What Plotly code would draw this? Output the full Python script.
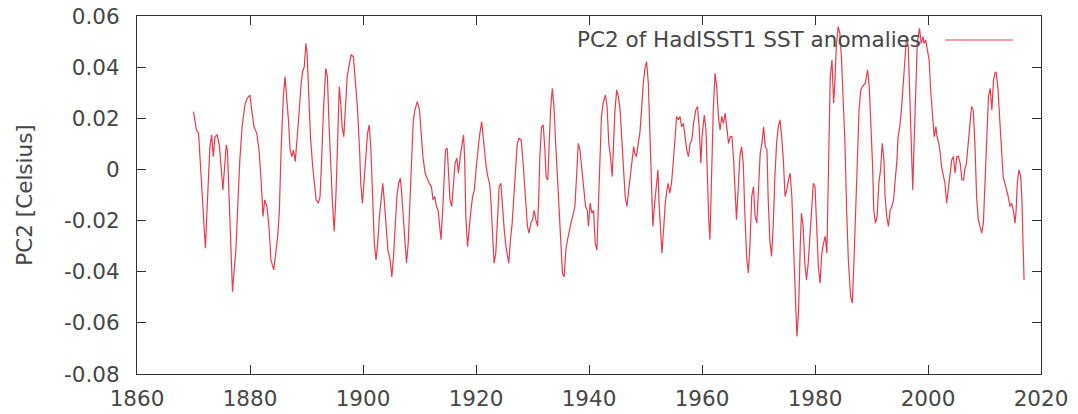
import plotly.graph_objects as go

years = [
    1870.0, 1870.5, 1870.9, 1871.5, 1872.1, 1872.5, 1872.9, 1873.2, 1873.5, 1873.8,
    1874.2, 1874.6, 1874.8, 1875.2, 1875.5, 1875.8, 1876.0, 1876.4, 1876.7, 1876.9,
    1877.2, 1877.5, 1877.8, 1878.2, 1878.6, 1879.1, 1879.5, 1880.0, 1880.3, 1880.7,
    1881.2, 1881.6, 1882.0, 1882.3, 1882.6, 1883.0, 1883.4, 1883.7, 1884.2, 1884.5,
    1884.9, 1885.2, 1885.5, 1885.9, 1886.2, 1886.8, 1887.1, 1887.4, 1887.7, 1888.0,
    1888.3, 1888.6, 1889.0, 1889.3, 1889.6, 1889.9, 1890.1, 1890.4, 1890.7, 1891.1,
    1891.4, 1891.7, 1892.1, 1892.4, 1892.7, 1893.0, 1893.4, 1893.7, 1894.0, 1894.3,
    1894.6, 1894.9, 1895.2, 1895.5, 1895.8, 1896.1, 1896.3, 1896.6, 1896.9, 1897.2,
    1897.6, 1897.9, 1898.3, 1898.6, 1899.0, 1899.4, 1899.6, 1899.9, 1900.2, 1900.5,
    1900.8, 1901.1, 1901.4, 1901.7, 1902.0, 1902.3, 1902.6, 1902.9, 1903.2, 1903.5,
    1903.8, 1904.1, 1904.4, 1904.8, 1905.1, 1905.4, 1905.7, 1906.0, 1906.3, 1906.6,
    1906.8, 1907.1, 1907.4, 1907.7, 1908.0, 1908.3, 1908.6, 1908.9, 1909.2, 1909.6,
    1910.0, 1910.3, 1910.6, 1911.0, 1911.4, 1911.7, 1912.1, 1912.4, 1912.7, 1913.0,
    1913.3, 1913.6, 1913.8, 1914.1, 1914.3, 1914.6, 1914.9, 1915.2, 1915.4, 1915.7,
    1916.0, 1916.3, 1916.6, 1916.9, 1917.2, 1917.5, 1917.8, 1918.0, 1918.2, 1918.5,
    1918.8, 1919.1, 1919.4, 1919.7, 1920.0, 1920.3, 1920.6, 1921.0, 1921.2, 1921.5,
    1921.8, 1922.1, 1922.4, 1922.6, 1922.9, 1923.2, 1923.5, 1923.8, 1924.1, 1924.4,
    1924.7, 1925.0, 1925.3, 1925.5, 1925.8, 1926.1, 1926.4, 1926.7, 1927.0, 1927.3,
    1927.6, 1928.0, 1928.3, 1928.6, 1928.9, 1929.1, 1929.4, 1929.7, 1930.0, 1930.3,
    1930.6, 1930.9, 1931.1, 1931.3, 1931.6, 1931.9, 1932.2, 1932.4, 1932.7, 1932.9,
    1933.2, 1933.5, 1933.8, 1934.1, 1934.5, 1934.8, 1935.1, 1935.3, 1935.6, 1935.9,
    1936.2, 1936.5, 1936.8, 1937.1, 1937.5, 1937.8, 1938.1, 1938.4, 1938.7, 1939.1,
    1939.4, 1939.7, 1939.9, 1940.2, 1940.5, 1940.8, 1941.1, 1941.4, 1941.7, 1941.9,
    1942.2, 1942.5, 1942.9, 1943.2, 1943.5, 1943.8, 1944.1, 1944.3, 1944.6, 1944.9,
    1945.2, 1945.5, 1945.8, 1946.1, 1946.4, 1946.7, 1947.0, 1947.3, 1947.6, 1947.9,
    1948.1, 1948.4, 1948.7, 1949.0, 1949.3, 1949.6, 1949.9, 1950.2, 1950.5, 1950.8,
    1951.1, 1951.3, 1951.5, 1951.9, 1952.2, 1952.4, 1952.7, 1952.9, 1953.2, 1953.5,
    1953.8, 1954.0, 1954.3, 1954.6, 1954.9, 1955.2, 1955.5, 1955.8, 1956.1, 1956.4,
    1956.7, 1957.0, 1957.3, 1957.6, 1957.9, 1958.2, 1958.5, 1958.9, 1959.2, 1959.5,
    1959.8, 1960.0, 1960.4, 1960.7, 1960.9, 1961.2, 1961.4, 1961.7, 1962.0, 1962.3,
    1962.6, 1962.9, 1963.2, 1963.5, 1963.8, 1964.1, 1964.4, 1964.7, 1965.0, 1965.3,
    1965.6, 1965.9, 1966.1, 1966.4, 1966.7, 1967.0, 1967.3, 1967.6, 1967.9, 1968.2,
    1968.5, 1968.8, 1969.1, 1969.4, 1969.7, 1970.0, 1970.3, 1970.6, 1970.9, 1971.2,
    1971.5, 1971.7, 1972.0, 1972.3, 1972.6, 1972.9, 1973.2, 1973.5, 1973.8, 1974.1,
    1974.4, 1974.7, 1975.0, 1975.3, 1975.6, 1975.9, 1976.2, 1976.5, 1976.8, 1977.1,
    1977.4, 1977.6, 1977.9, 1978.2, 1978.5, 1978.8, 1979.1, 1979.4, 1979.7, 1980.0,
    1980.3, 1980.6, 1980.9, 1981.2, 1981.5, 1981.8, 1982.1, 1982.4, 1982.7, 1983.0,
    1983.3, 1983.5, 1983.8, 1984.1, 1984.4, 1984.7, 1985.0, 1985.3, 1985.6, 1985.9,
    1986.3, 1986.6, 1986.9, 1987.2, 1987.5, 1987.8, 1988.1, 1988.4, 1988.9, 1989.3,
    1989.6, 1989.9, 1990.2, 1990.4, 1990.7, 1991.0, 1991.3, 1991.6, 1991.9, 1992.2,
    1992.4, 1992.7, 1993.0, 1993.3, 1993.6, 1993.9, 1994.2, 1994.5, 1994.7, 1995.0,
    1995.3, 1995.6, 1995.9, 1996.2, 1996.5, 1996.8, 1997.1, 1997.3, 1997.5, 1997.8,
    1998.1, 1998.5, 1998.8, 1999.1, 1999.3, 1999.6, 1999.9, 2000.2, 2000.5, 2000.8,
    2001.1, 2001.4, 2001.6, 2001.9, 2002.1, 2002.4, 2002.7, 2003.0, 2003.3, 2003.6,
    2003.9, 2004.2, 2004.5, 2004.8, 2005.1, 2005.4, 2005.7, 2006.0, 2006.3, 2006.5,
    2006.8, 2007.1, 2007.4, 2007.7, 2008.0, 2008.3, 2008.6, 2008.9, 2009.2, 2009.5,
    2009.8, 2010.1, 2010.4, 2010.7, 2011.0, 2011.3, 2011.6, 2011.9, 2012.1, 2012.4,
    2012.7, 2013.0, 2013.3, 2013.6, 2013.9, 2014.2, 2014.5, 2014.8, 2015.1, 2015.4,
    2015.6, 2015.8, 2016.1, 2016.4, 2016.6, 2016.8, 2017.0,
]

pc2 = [
    0.0226, 0.0154, 0.0141, -0.0093, -0.0308, -0.0106, 0.0089, 0.0135, 0.0050, 0.0128,
    0.0135, 0.0089, 0.0037, -0.0080, 0.0010, 0.0096, 0.0076, -0.0160, -0.0406, -0.0478,
    -0.0393, -0.0315, -0.0160, 0.0037, 0.0167, 0.0252, 0.0278, 0.0291, 0.0233, 0.0167,
    0.0141, 0.0076, -0.0054, -0.0184, -0.0119, -0.0145, -0.0236, -0.0354, -0.0393, -0.0340,
    -0.0262, -0.0160, 0.0076, 0.0285, 0.0363, 0.0194, 0.0076, 0.0050, 0.0076, 0.0030,
    0.0102, 0.0194, 0.0324, 0.0382, 0.0402, 0.0493, 0.0454, 0.0298, 0.0128, 0.0010,
    -0.0054, -0.0119, -0.0132, -0.0106, 0.0050, 0.0233, 0.0395, 0.0363, 0.0167, -0.0002,
    -0.0132, -0.0243, -0.0106, 0.0102, 0.0324, 0.0246, 0.0167, 0.0128, 0.0259, 0.0363,
    0.0415, 0.0448, 0.0441, 0.0363, 0.0246, 0.0076, -0.0054, -0.0132, -0.0028, 0.0063,
    0.0141, 0.0174, 0.0076, -0.0106, -0.0289, -0.0354, -0.0289, -0.0184, -0.0106, -0.0054,
    -0.0132, -0.0236, -0.0315, -0.0354, -0.0420, -0.0340, -0.0210, -0.0106, -0.0054, -0.0034,
    -0.0080, -0.0184, -0.0289, -0.0367, -0.0289, -0.0132, 0.0037, 0.0194, 0.0233, 0.0265,
    0.0233, 0.0141, 0.0050, -0.0015, -0.0041, -0.0054, -0.0067, -0.0119, -0.0106, -0.0145,
    -0.0160, -0.0236, -0.0275, -0.0160, -0.0054, 0.0076, 0.0083, -0.0028, -0.0119, -0.0145,
    -0.0054, 0.0024, 0.0044, -0.0015, 0.0050, 0.0102, 0.0135, 0.0037, -0.0184, -0.0302,
    -0.0223, -0.0160, -0.0106, -0.0080, -0.0002, 0.0076, 0.0128, 0.0187, 0.0141, 0.0076,
    0.0010, -0.0028, -0.0054, -0.0106, -0.0262, -0.0367, -0.0328, -0.0184, -0.0067, -0.0054,
    -0.0160, -0.0236, -0.0302, -0.0328, -0.0367, -0.0275, -0.0210, -0.0106, 0.0024, 0.0102,
    0.0122, 0.0115, 0.0037, -0.0054, -0.0132, -0.0223, -0.0249, -0.0210, -0.0197, -0.0160,
    -0.0197, -0.0223, -0.0106, 0.0050, 0.0167, 0.0174, 0.0076, -0.0028, -0.0041, 0.0102,
    0.0233, 0.0317, 0.0246, 0.0102, -0.0080, -0.0236, -0.0328, -0.0406, -0.0420, -0.0315,
    -0.0275, -0.0236, -0.0210, -0.0184, -0.0145, -0.0028, 0.0102, 0.0076, 0.0010, -0.0093,
    -0.0145, -0.0160, -0.0223, -0.0132, -0.0171, -0.0160, -0.0289, -0.0315, -0.0106, 0.0050,
    0.0207, 0.0259, 0.0291, 0.0246, 0.0102, 0.0050, -0.0028, 0.0076, 0.0233, 0.0311,
    0.0285, 0.0233, 0.0102, -0.0028, -0.0106, -0.0145, -0.0080, -0.0028, 0.0037, 0.0089,
    0.0063, 0.0050, 0.0102, 0.0141, 0.0233, 0.0337, 0.0395, 0.0422, 0.0337, 0.0102,
    -0.0160, -0.0223, -0.0160, -0.0054, -0.0002, -0.0132, -0.0262, -0.0328, -0.0236, -0.0132,
    -0.0080, -0.0054, -0.0093, -0.0054, 0.0024, 0.0128, 0.0207, 0.0194, 0.0207, 0.0167,
    0.0180, 0.0128, 0.0076, 0.0050, 0.0102, 0.0115, 0.0180, 0.0233, 0.0246, 0.0167,
    0.0024, 0.0128, 0.0213, 0.0154, -0.0028, -0.0197, -0.0275, -0.0002, 0.0233, 0.0376,
    0.0324, 0.0207, 0.0154, 0.0207, 0.0180, 0.0220, 0.0167, 0.0102, 0.0128, 0.0128,
    0.0037, -0.0145, -0.0197, -0.0080, 0.0050, 0.0089, 0.0024, -0.0184, -0.0340, -0.0406,
    -0.0289, -0.0106, -0.0067, -0.0184, -0.0210, -0.0080, 0.0063, 0.0102, 0.0167, 0.0089,
    0.0076, -0.0106, -0.0275, -0.0340, -0.0223, -0.0028, 0.0102, 0.0167, 0.0194, 0.0128,
    0.0037, -0.0106, -0.0080, -0.0041, -0.0015, -0.0106, -0.0262, -0.0484, -0.0653, -0.0549,
    -0.0289, -0.0171, -0.0223, -0.0367, -0.0432, -0.0367, -0.0262, -0.0160, -0.0054, -0.0067,
    -0.0210, -0.0380, -0.0445, -0.0328, -0.0289, -0.0262, -0.0328, 0.0037, 0.0363, 0.0428,
    0.0259, 0.0337, 0.0493, 0.0558, 0.0532, 0.0428, 0.0285, 0.0102, -0.0160, -0.0354,
    -0.0497, -0.0523, -0.0354, -0.0160, 0.0076, 0.0233, 0.0311, 0.0324, 0.0337, 0.0389,
    0.0324, 0.0180, 0.0010, -0.0160, -0.0210, -0.0184, -0.0054, -0.0002, 0.0102, 0.0037,
    -0.0106, -0.0184, -0.0223, -0.0160, -0.0145, -0.0119, -0.0054, 0.0037, 0.0128, 0.0167,
    0.0233, 0.0324, 0.0428, 0.0519, 0.0480, 0.0298, 0.0063, -0.0080, 0.0076, 0.0298,
    0.0493, 0.0552, 0.0493, 0.0519, 0.0493, 0.0506, 0.0467, 0.0428, 0.0298, 0.0207,
    0.0128, 0.0167, 0.0128, 0.0102, 0.0076, 0.0010, -0.0028, -0.0054, -0.0132, -0.0067,
    -0.0015, 0.0037, 0.0050, -0.0015, 0.0050, 0.0050, 0.0024, -0.0041, -0.0041, -0.0002,
    0.0024, 0.0102, 0.0194, 0.0246, 0.0233, 0.0102, -0.0106, -0.0197, -0.0223, -0.0249,
    -0.0210, -0.0028, 0.0167, 0.0285, 0.0317, 0.0233, 0.0350, 0.0382, 0.0376, 0.0311,
    0.0194, 0.0076, -0.0028, -0.0054, -0.0080, -0.0106, -0.0145, -0.0132, -0.0160, -0.0210,
    -0.0160, -0.0054, -0.0002, -0.0028, -0.0106, -0.0302, -0.0432,
]

x_ticks = [1860, 1880, 1900, 1920, 1940, 1960, 1980, 2000, 2020]
y_ticks = [0.06, 0.04, 0.02, 0.0, -0.02, -0.04, -0.06, -0.08]
y_tick_labels = ["0.06", "0.04", "0.02", "0", "-0.02", "-0.04", "-0.06", "-0.08"]
series_name = "PC2 of HadISST1 SST anomalies"
y_title = "PC2 [Celsius]"

line_color = "#ec3b4a"
text_color = "#474747"
frame_color = "#333333"
font_size = 21.5

fig = go.Figure()
fig.add_trace(go.Scatter(
    x=years, y=pc2, mode="lines", name=series_name,
    line=dict(color=line_color, width=1.2),
    showlegend=False,
))

axis_common = dict(
    showline=True, linecolor=frame_color, linewidth=1, mirror="ticks",
    ticks="inside", ticklen=9, tickwidth=1, tickcolor=frame_color,
    showgrid=False, zeroline=False,
    tickfont=dict(family="DejaVu Sans", size=font_size, color=text_color),
)

fig.update_xaxes(range=[1860, 2020], tickvals=x_ticks,
                 ticktext=[str(t) for t in x_ticks], ticklabelstandoff=5,
                 **axis_common)
fig.update_yaxes(range=[-0.08, 0.06], tickvals=y_ticks, ticktext=y_tick_labels,
                 ticklabelstandoff=12,
                 title=dict(text=y_title, standoff=25,
                            font=dict(family="DejaVu Sans", size=font_size, color=text_color)),
                 **axis_common)

# gnuplot-style key: text followed by a line sample
fig.add_annotation(xref="paper", yref="paper", x=0.87, y=0.933,
                   xanchor="right", yanchor="middle", showarrow=False,
                   text=series_name,
                   font=dict(family="DejaVu Sans", size=font_size, color=text_color))
fig.add_shape(type="line", xref="paper", yref="paper",
              x0=0.894, x1=0.969, y0=0.933, y1=0.933,
              line=dict(color=line_color, width=1.2))

fig.update_layout(
    width=1078, height=414,
    margin=dict(l=137, r=37, t=16, b=40, autoexpand=False),
    plot_bgcolor="white", paper_bgcolor="white",
    font=dict(family="DejaVu Sans", size=font_size, color=text_color),
)

fig.write_html("out.html")
